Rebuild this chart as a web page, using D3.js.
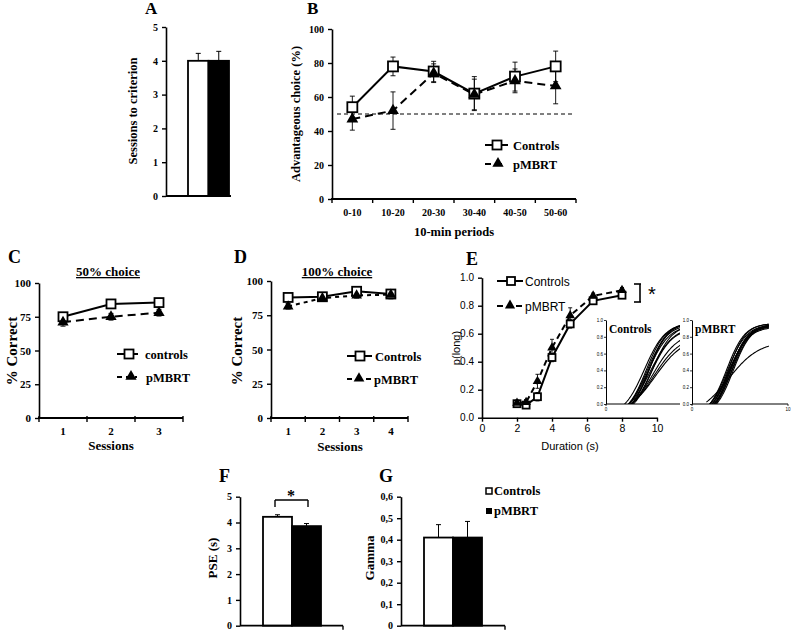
<!DOCTYPE html>
<html><head><meta charset="utf-8">
<script src="https://cdn.jsdelivr.net/npm/d3@7"></script>
<style>body{margin:0;background:#fff} svg{display:block;background:#fff}</style>
</head><body><svg id="c" width="793" height="631"></svg>
<script>
// ---------------- DATA ----------------
const groups = ["Controls", "pMBRT"];
// A
const aSessions = [4, 4];
const aErr = [0.22, 0.28];
const aTicks = [0, 1, 2, 3, 4, 5];
// B
const bPeriods = ["0-10", "10-20", "20-30", "30-40", "40-50", "50-60"];
const bControls = [54, 78, 75, 62, 72, 78];
const bControlsErr = [6.5, 5.5, 6, 10, 8.5, 9];
const bPmbrt = [47, 52, 74, 61.5, 69.5, 66.5];
const bPmbrtErr = [6.5, 11, 5.5, 9, 7, 10.5];
const bChance = 50;
const bTicks = [0, 20, 40, 60, 80, 100];
// C
const cSessions = ["1", "2", "3"];
const cControls = [75, 84.5, 85.5];
const cControlsErr = [3, 2.5, 2.5];
const cPmbrt = [71, 75, 78];
const cPmbrtErr = [3, 2.5, 2.5];
// D
const dSessions = ["1", "2", "3", "4"];
const dControls = [88, 88.5, 92.5, 90.5];
const dControlsErr = [2, 2, 2, 3];
const dPmbrt = [81.5, 87.5, 89.5, 90];
const dPmbrtErr = [2, 2, 2, 3];
const pctTicks = [0, 25, 50, 75, 100];
// E
const eDurations = [2, 2.52, 3.17, 4, 5.04, 6.35, 8];
const eControls = [0.10, 0.09, 0.15, 0.43, 0.67, 0.835, 0.875];
const eControlsErr = [0.02, 0.02, 0.03, 0.03, 0.03, 0.02, 0.02];
const ePmbrt = [0.105, 0.11, 0.26, 0.50, 0.73, 0.87, 0.91];
const ePmbrtErr = [0.02, 0.02, 0.05, 0.06, 0.055, 0.02, 0.02];
const eXTicks = [0, 2, 4, 6, 8, 10];
const eYTicks = [0, 0.2, 0.4, 0.6, 0.8, 1.0];
// E insets: individual fitted psychometric curves (midpoint, spread, upper asymptote)
const insetCtrlPse = [4.0, 4.2, 4.3, 4.4, 4.5, 4.6, 4.7, 4.8, 4.9, 5.0, 5.1, 4.5];
const insetCtrlSpread = [1.1, 1.0, 1.05, 1.1, 1.0, 1.2, 1.1, 1.05, 1.3, 1.4, 1.5, 0.95];
const insetCtrlTop = [0.97, 0.96, 0.95, 0.94, 0.97, 0.92, 0.90, 0.95, 0.86, 0.82, 0.80, 0.97];
const insetPmbrtPse = [3.6, 3.7, 3.8, 3.9, 4.0, 4.1, 4.2, 3.8, 4.0, 4.3, 3.9, 3.8];
const insetPmbrtSpread = [0.95, 1.0, 0.9, 1.0, 0.95, 0.9, 1.0, 1.05, 0.9, 0.95, 1.0, 1.6];
const insetPmbrtTop = [0.96, 0.95, 0.96, 0.94, 0.95, 0.93, 0.96, 0.92, 0.94, 0.95, 0.93, 0.75];
const insetYTicks = [0, 0.2, 0.4, 0.6, 0.8, 1.0];
// F
const fPse = [4.22, 3.86];
const fErr = [0.08, 0.1];
const fTicks = [0, 1, 2, 3, 4, 5];
// G
const gGamma = [0.41, 0.41];
const gErr = [0.06, 0.075];
const gTicks = [0, 0.1, 0.2, 0.3, 0.4, 0.5, 0.6];

// ---------------- DRAWING ----------------
const serif = '"Liberation Serif","Times New Roman",serif';
const sans = '"Liberation Sans",Arial,sans-serif';
const svg = d3.select("#c");

function text(x, y, s, o = {}) {
  const t = svg.append("text").attr("x", x).attr("y", y).text(s)
    .style("font-family", o.family || serif)
    .style("font-weight", o.weight || "bold")
    .style("font-size", (o.size || 12) + "px")
    .attr("text-anchor", o.anchor || "start")
    .attr("fill", "#000");
  if (o.rotate) t.attr("transform", `rotate(-90,${x},${y})`);
  if (o.under) t.style("text-decoration", "underline");
  return t;
}
function styleAxis(g, fs, family, weight) {
  g.select(".domain").attr("stroke", "#000").attr("stroke-width", 1.6);
  g.selectAll(".tick line").attr("stroke", "#000").attr("stroke-width", 1.4);
  g.selectAll(".tick text").style("font-family", family || serif).style("font-weight", weight || "bold")
    .style("font-size", fs + "px").attr("fill", "#000");
}
function yAxis(x, scale, ticks, fmt, fs, family, weight, size) {
  const g = svg.append("g").attr("transform", `translate(${x},0)`)
    .call(d3.axisLeft(scale).tickValues(ticks).tickFormat(fmt).tickSize(size || 4).tickSizeOuter(0).tickPadding(4));
  styleAxis(g, fs, family, weight);
  return g;
}
function hline(x1, x2, y, w = 1.6) {
  svg.append("line").attr("x1", x1).attr("x2", x2).attr("y1", y).attr("y2", y).attr("stroke", "#000").attr("stroke-width", w);
}
function vline(x, y1, y2, w = 1.4) {
  svg.append("line").attr("x1", x).attr("x2", x).attr("y1", y1).attr("y2", y2).attr("stroke", "#000").attr("stroke-width", w);
}
function errBar(x, y1, y2, cap, w = 1) {
  vline(x, y1, y2, w);
  hline(x - cap, x + cap, y1, w);
  hline(x - cap, x + cap, y2, w);
}
function square(x, y, s) {
  svg.append("rect").attr("x", x - s / 2).attr("y", y - s / 2).attr("width", s).attr("height", s)
    .attr("fill", "#fff").attr("stroke", "#000").attr("stroke-width", 1.8);
}
function tri(x, y, size) {
  svg.append("path").attr("d", d3.symbol(d3.symbolTriangle).size(size)())
    .attr("transform", `translate(${x},${y})`).attr("fill", "#000");
}

// ---- Bar panel helper
function barPanel(cfg) {
  const y = d3.scaleLinear().domain([cfg.ticks[0], cfg.ticks[cfg.ticks.length - 1]]).range([cfg.yBot, cfg.yTop]);
  const xb = d3.scaleBand().domain(groups).range(cfg.barRange).padding(0);
  groups.forEach((gname, i) => {
    const v = cfg.values[i], e = cfg.err[i];
    svg.append("rect").attr("x", xb(gname)).attr("y", y(v)).attr("width", xb.bandwidth()).attr("height", y(0) - y(v))
      .attr("fill", i === 0 ? "#fff" : "#000").attr("stroke", "#000").attr("stroke-width", 1.8);
    const cx = xb(gname) + xb.bandwidth() / 2;
    vline(cx, y(v), y(v + e), 1);
    hline(cx - 2.5, cx + 2.5, y(v + e), 1);
  });
  yAxis(cfg.x0, y, cfg.ticks, cfg.fmt, cfg.fs);
  hline(cfg.x0, cfg.x1, cfg.yBot, 1.8);
  if (cfg.endTick) vline(cfg.x1, cfg.yBot, cfg.yBot + 4, 1.4);
  return y;
}

// ================= A =================
text(145, 14, "A", { size: 17 });
barPanel({ x0: 166, x1: 231, yTop: 27, yBot: 196, ticks: aTicks, values: aSessions, err: aErr,
  barRange: [188, 229], fmt: d3.format("d"), fs: 10 });
text(137, 111, "Sessions to criterion", { size: 12.5, anchor: "middle", rotate: true });

// ---- category line panel helper
function linePanel(cfg) {
  const y = d3.scaleLinear().domain([cfg.ticks[0], cfg.ticks[cfg.ticks.length - 1]]).range([cfg.yBot, cfg.yTop]);
  const x = d3.scaleBand().domain(cfg.cats).range([cfg.x0, cfg.x1]);
  const cx = c => x(c) + x.bandwidth() / 2;
  yAxis(cfg.x0, y, cfg.ticks, d3.format("d"), cfg.fs);
  hline(cfg.x0 - 1, cfg.x1, cfg.yBot, 1.8);
  const bnd = d3.range(cfg.cats.length + 1).map(i => cfg.x0 + i * x.bandwidth());
  bnd.forEach(b => vline(b, cfg.yBot - (cfg.tickUp || 0), cfg.yBot + 4, 1.4));
  cfg.cats.forEach(c => text(cx(c), cfg.yBot + cfg.labDy, c, { size: cfg.fs, anchor: "middle" }));
  if (cfg.chance != null) {
    svg.append("line").attr("x1", cfg.chanceX[0]).attr("x2", cfg.chanceX[1]).attr("y1", y(cfg.chance)).attr("y2", y(cfg.chance))
      .attr("stroke", "#000").attr("stroke-width", 1).attr("stroke-dasharray", "4,3");
  }
  const line = d3.line().x((d, i) => cx(cfg.cats[i])).y(d => y(d));
  svg.append("path").attr("d", line(cfg.pm)).attr("fill", "none").attr("stroke", "#000").attr("stroke-width", 2)
    .attr("stroke-dasharray", cfg.dash);
  svg.append("path").attr("d", line(cfg.ct)).attr("fill", "none").attr("stroke", "#000").attr("stroke-width", 2);
  cfg.cats.forEach((c, i) => {
    errBar(cx(c), y(cfg.ct[i] - cfg.ctE[i]), y(cfg.ct[i] + cfg.ctE[i]), 2.5, 0.9);
    errBar(cx(c), y(cfg.pm[i] - cfg.pmE[i]), y(cfg.pm[i] + cfg.pmE[i]), 2.5, 0.9);
  });
  cfg.cats.forEach((c, i) => square(cx(c), y(cfg.ct[i]), cfg.sq));
  cfg.cats.forEach((c, i) => tri(cx(c), y(cfg.pm[i]), cfg.tr));
  return y;
}

// ================= B =================
text(307, 14, "B", { size: 17 });
linePanel({ x0: 332, x1: 576, yTop: 29, yBot: 199, ticks: bTicks, cats: bPeriods, ct: bControls, ctE: bControlsErr,
  pm: bPmbrt, pmE: bPmbrtErr, fs: 10, labDy: 17, sq: 10, tr: 60, dash: "8,5", chance: bChance, chanceX: [337, 574] });
text(454, 236, "10-min periods", { size: 12.5, anchor: "middle" });
text(300, 114, "Advantageous choice (%)", { size: 12.5, anchor: "middle", rotate: true });
hline(485, 508, 145, 2); square(497, 145, 9); text(513, 149.5, "Controls", { size: 12.5 });
svg.append("line").attr("x1", 485).attr("x2", 505).attr("y1", 164).attr("y2", 164).attr("stroke", "#000").attr("stroke-width", 2).attr("stroke-dasharray", "6,5");
tri(498, 163.5, 55); text(513, 168.5, "pMBRT", { size: 12.5 });

// ================= C =================
text(8, 263, "C", { size: 18 });
text(108, 276, "50% choice", { size: 13, anchor: "middle", under: true });
linePanel({ x0: 39, x1: 183, yTop: 283, yBot: 418, ticks: pctTicks, cats: cSessions, ct: cControls, ctE: cControlsErr,
  pm: cPmbrt, pmE: cPmbrtErr, fs: 11, labDy: 17, sq: 9, tr: 55, dash: "8,5", tickUp: 2 });
text(111, 450, "Sessions", { size: 13, anchor: "middle" });
text(17, 351, "% Correct", { size: 15, anchor: "middle", rotate: true });
hline(117, 138, 354, 2); square(129, 354, 9); text(145, 358.5, "controls", { size: 12.5 });
svg.append("line").attr("x1", 117).attr("x2", 137).attr("y1", 377).attr("y2", 377).attr("stroke", "#000").attr("stroke-width", 2).attr("stroke-dasharray", "5,4");
tri(131, 376.5, 55); text(146, 381.5, "pMBRT", { size: 12.5 });

// ================= D =================
text(234, 263, "D", { size: 18 });
text(337, 276, "100% choice", { size: 13, anchor: "middle", under: true });
linePanel({ x0: 271, x1: 408, yTop: 281, yBot: 418, ticks: pctTicks, cats: dSessions, ct: dControls, ctE: dControlsErr,
  pm: dPmbrt, pmE: dPmbrtErr, fs: 11, labDy: 17, sq: 9, tr: 50, dash: "4,4", tickUp: 2 });
text(340, 451, "Sessions", { size: 13, anchor: "middle" });
text(242, 351, "% Correct", { size: 15, anchor: "middle", rotate: true });
hline(347, 372, 356, 2); square(360, 356, 9); text(375, 360.5, "Controls", { size: 12.5 });
hline(347, 352, 379, 2); tri(359, 378.5, 50); hline(366, 371, 379, 2); text(374, 383.5, "pMBRT", { size: 12.5 });

// ================= E =================
text(466, 265, "E", { size: 18 });
{
  const x = d3.scaleLinear().domain([0, 10]).range([482, 657]);
  const y = d3.scaleLinear().domain([0, 1]).range([417.7, 277.7]);
  yAxis(482, y, eYTicks, d3.format(".1f"), 10, sans, "normal", 4);
  const gx = svg.append("g").attr("transform", "translate(0,417.7)")
    .call(d3.axisBottom(x).tickValues(eXTicks).tickFormat(d3.format("d")).tickSize(4).tickSizeOuter(0).tickPadding(3));
  styleAxis(gx, 10.5, sans, "normal");
  text(570, 450, "Duration (s)", { size: 11, anchor: "middle", family: sans, weight: "normal" });
  text(460, 348, "p(long)", { size: 11, anchor: "middle", family: sans, weight: "normal", rotate: true });
  const line = d3.line().x((d, i) => x(eDurations[i])).y(d => y(d));
  svg.append("path").attr("d", line(ePmbrt)).attr("fill", "none").attr("stroke", "#000").attr("stroke-width", 2).attr("stroke-dasharray", "6,4");
  svg.append("path").attr("d", line(eControls)).attr("fill", "none").attr("stroke", "#000").attr("stroke-width", 2);
  eDurations.forEach((d, i) => {
    errBar(x(d), y(eControls[i] - eControlsErr[i]), y(eControls[i] + eControlsErr[i]), 2, 0.9);
    errBar(x(d), y(ePmbrt[i] - ePmbrtErr[i]), y(ePmbrt[i] + ePmbrtErr[i]), 2, 0.9);
  });
  eDurations.forEach((d, i) => square(x(d), y(eControls[i]), 7));
  eDurations.forEach((d, i) => tri(x(d), y(ePmbrt[i]), 40));
  hline(497, 523, 281, 2); square(511, 281, 8); text(525, 285.5, "Controls", { size: 12, family: sans, weight: "normal" });
  hline(497, 503, 306, 2); tri(510, 305.5, 45); hline(516, 522, 306, 2); text(525, 310.5, "pMBRT", { size: 12, family: sans, weight: "normal" });
  hline(634, 641, 284, 1.6); vline(640, 284, 302, 1.6); hline(634, 641, 302, 1.6);
  text(652, 301, "*", { size: 20, family: sans, weight: "normal", anchor: "middle" });

  const floor = 0.15;
  function inset(ox, xEnd, title, pse, spread, top) {
    const ix = d3.scaleLinear().domain([0, 10]).range([ox, ox + 96]);
    const iy = d3.scaleLinear().domain([0, 1]).range([404, 320]);
    svg.append("rect").attr("x", ox - 12).attr("y", 316).attr("width", xEnd - ox + 14).attr("height", 98).attr("fill", "#fff");
    const ga = svg.append("g").attr("transform", `translate(${ox},0)`)
      .call(d3.axisLeft(iy).tickValues(insetYTicks).tickFormat(d3.format(".1f")).tickSize(2).tickSizeOuter(0).tickPadding(1));
    ga.select(".domain").attr("stroke", "#000").attr("stroke-width", 1);
    ga.selectAll(".tick line").attr("stroke", "#000").attr("stroke-width", 0.8);
    ga.selectAll(".tick text").style("font-family", sans).style("font-size", "4.5px").attr("fill", "#000");
    hline(ox, xEnd, 404, 1);
    vline(ox, 404, 406, 0.8);
    text(ox, 411, "0", { size: 4.5, family: sans, weight: "normal", anchor: "middle" });
    if (xEnd >= ox + 96) { vline(ox + 96, 404, 406, 0.8); text(ox + 96, 411, "10", { size: 4.5, family: sans, weight: "normal", anchor: "middle" }); }
    const clipId = "clip" + ox;
    svg.append("clipPath").attr("id", clipId).append("rect").attr("x", ox).attr("y", 300).attr("width", xEnd - ox).attr("height", 104);
    const gc = svg.append("g").attr("clip-path", `url(#${clipId})`);
    pse.forEach((m, i) => {
      const xs = d3.range(1.5, 8.001, 0.1);
      const f = v => (top[i] + floor) / (1 + Math.exp(-(v - m) / spread[i])) - floor;
      gc.append("path").attr("d", d3.line().x(v => ix(v)).y(v => iy(f(v)))(xs))
        .attr("fill", "none").attr("stroke", "#000").attr("stroke-width", 1.1);
    });
    text(ox + 3, 333, title, { size: 11.5 });
  }
  inset(606, 680, "Controls", insetCtrlPse, insetCtrlSpread, insetCtrlTop);
  inset(692, 788, "pMBRT", insetPmbrtPse, insetPmbrtSpread, insetPmbrtTop);
}

// ================= F =================
text(219, 482, "F", { size: 18 });
barPanel({ x0: 240, x1: 343, yTop: 496.7, yBot: 625.7, ticks: fTicks, values: fPse, err: fErr,
  barRange: [263, 321], fmt: d3.format("d"), fs: 10, endTick: true });
hline(275, 308, 500, 1.4); vline(275, 500, 507, 1.4); vline(308, 500, 507, 1.4);
text(291, 501, "*", { size: 16, anchor: "middle" });
text(217, 558, "PSE (s)", { size: 13, anchor: "middle", rotate: true });

// ================= G =================
text(379, 482, "G", { size: 18 });
barPanel({ x0: 401, x1: 505, yTop: 496.7, yBot: 625.7, ticks: gTicks, values: gGamma, err: gErr,
  barRange: [424, 482], fmt: d => d === 0 ? "0" : d3.format(".1f")(d).replace(".", ","), fs: 10, endTick: true });
text(374, 558, "Gamma", { size: 13, anchor: "middle", rotate: true });
svg.append("rect").attr("x", 486).attr("y", 488).attr("width", 6).attr("height", 6).attr("fill", "#fff").attr("stroke", "#000").attr("stroke-width", 1.5);
text(494, 495, "Controls", { size: 12.5 });
svg.append("rect").attr("x", 486).attr("y", 508).attr("width", 6).attr("height", 6).attr("fill", "#000");
text(494, 515, "pMBRT", { size: 12.5 });
</script></body></html>
